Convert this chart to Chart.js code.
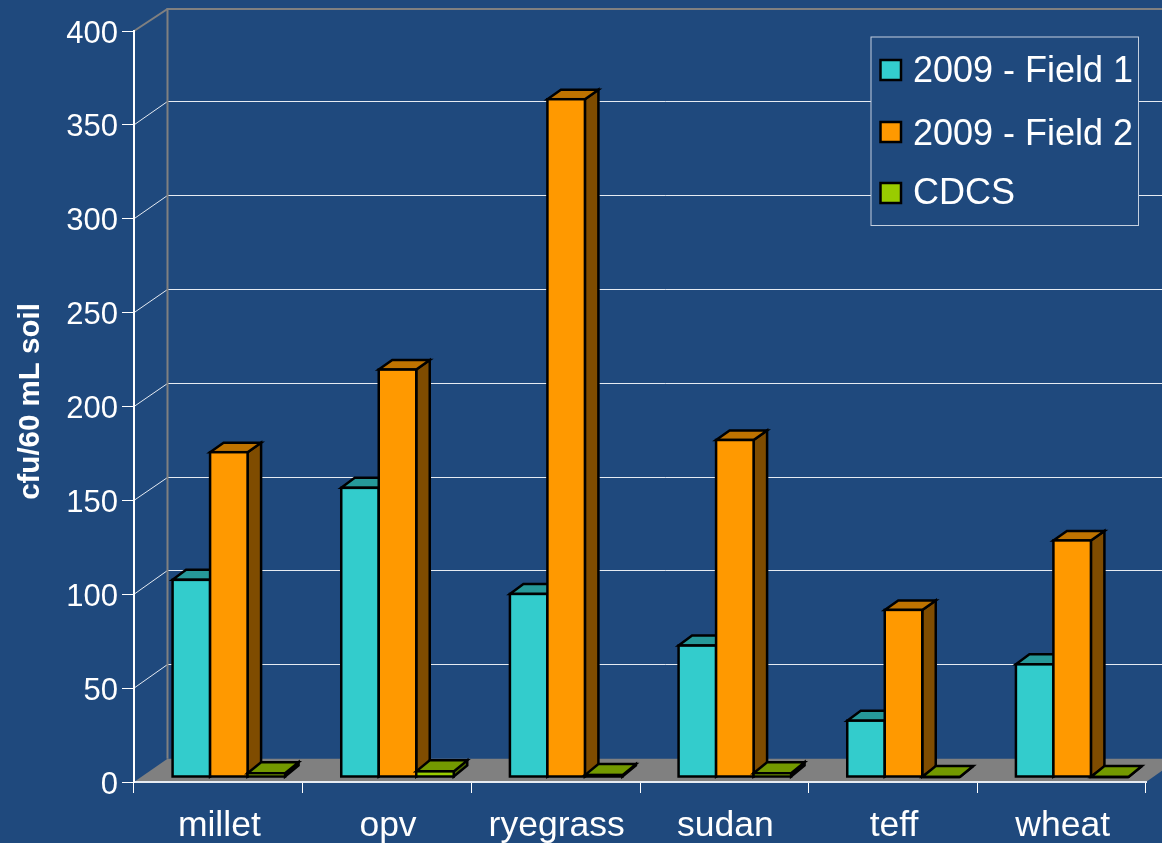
<!DOCTYPE html>
<html>
<head>
<meta charset="utf-8">
<title>cfu/60 mL soil</title>
<script src="https://cdn.jsdelivr.net/npm/chart.js@4"></script>
<style>
  html, body { margin: 0; padding: 0; background: #1F497D; overflow: hidden; }
  canvas { display: block; }
</style>
</head>
<body>
<canvas id="soilChart" width="1162" height="843"></canvas>
<script>
const categories = ['millet', 'opv', 'ryegrass', 'sudan', 'teff', 'wheat'];
const field1 = [105, 154, 97.5, 70, 30, 60];
const field2 = [173, 217, 361, 179.5, 89, 126];
const cdcs = [2, 3, 1, 2, 0, 0];
const seriesNames = ['2009 - Field 1', '2009 - Field 2', 'CDCS'];

const FONT = '"Liberation Sans", Arial, sans-serif';
const GRID = '#e6ebf2';
const WALL = '#808080';
// depth of the floor and how far the bars sit in from its front edge
const FLOOR_DX = 33.5, FLOOR_DY = -23.3;
const BAR_DX = 13.5;
const INSET_DX = 10.5, INSET_DY = -5;
const OUTLINE = 2.5;

// shades for the front, top and side faces, plus the rise of the top face
const faces = [
    { front: '#33CCCC', top: '#269999', side: '#1A6666', rise: -10 },
    { front: '#FF9900', top: '#BF7300', side: '#7F4C00', rise: -9.5 },
    { front: '#99CC00', top: '#739900', side: '#4C6600', rise: -11 }
];

function poly(ctx, pts, fill, stroke) {
    ctx.beginPath();
    pts.forEach((p, i) => i ? ctx.lineTo(p[0], p[1]) : ctx.moveTo(p[0], p[1]));
    ctx.closePath();
    if (fill) { ctx.fillStyle = fill; ctx.fill(); }
    if (stroke) { ctx.strokeStyle = stroke; ctx.lineWidth = OUTLINE; ctx.lineJoin = 'miter'; ctx.stroke(); }
}

// floor, back wall and the grid lines that run around it
const backdrop = {
    id: 'backdrop',
    beforeDraw(chart) {
        const { ctx, chartArea: a, scales: { y } } = chart;
        ctx.save();
        poly(ctx, [[a.left, a.bottom], [a.left + FLOOR_DX, a.bottom + FLOOR_DY],
            [a.right + FLOOR_DX, a.bottom + FLOOR_DY], [a.right, a.bottom]], WALL);

        y.ticks.forEach(t => {
            if (t.value === 0) return;
            const py = y.getPixelForValue(t.value);
            const top = t.value === y.max;
            const back = top ? 9 : Math.floor(py + FLOOR_DY) + 0.5;
            ctx.beginPath();
            ctx.moveTo(a.left, py);
            ctx.lineTo(a.left + FLOOR_DX, back);
            ctx.lineTo(a.right + FLOOR_DX, back);
            ctx.strokeStyle = top ? WALL : GRID;
            ctx.lineWidth = top ? 2 : 1;
            ctx.stroke();
        });

        ctx.beginPath();
        ctx.moveTo(a.left + FLOOR_DX, 8);
        ctx.lineTo(a.left + FLOOR_DX, a.bottom + FLOOR_DY);
        ctx.strokeStyle = WALL;
        ctx.lineWidth = 2;
        ctx.stroke();
        ctx.restore();
    }
};

// the library paints datasets last to first, but these bars overlap left to right,
// so each one is painted here in series order with its top, side and outline
const bars3d = {
    id: 'bars3d',
    beforeDatasetsDraw(chart) {
        const { ctx } = chart;
        chart.data.datasets.forEach((ds, index) => {
            const meta = chart.getDatasetMeta(index);
            const shade = faces[index];
            ctx.save();
            ctx.translate(INSET_DX, INSET_DY);
            meta.data.forEach(bar => {
                const l = bar.x - bar.width / 2, r = bar.x + bar.width / 2;
                poly(ctx, [[r, bar.base], [r + BAR_DX, bar.base + shade.rise], [r + BAR_DX, bar.y + shade.rise], [r, bar.y]], shade.side, '#000');
                poly(ctx, [[l, bar.y], [l + BAR_DX, bar.y + shade.rise], [r + BAR_DX, bar.y + shade.rise], [r, bar.y]], shade.top, '#000');
            });
            meta.controller.draw();
            meta.data.forEach(bar => {
                ctx.strokeStyle = '#000';
                ctx.lineWidth = OUTLINE;
                ctx.strokeRect(bar.x - bar.width / 2, bar.y, bar.width, bar.base - bar.y);
            });
            ctx.restore();
        });
        return false;
    }
};

const sideTexts = {
    id: 'sideTexts',
    afterDraw(chart) {
        const { ctx } = chart;
        ctx.save();

        // legend box
        ctx.fillStyle = '#1F497D';
        ctx.fillRect(871, 37, 267.5, 188.5);
        ctx.strokeStyle = '#c5d0df';
        ctx.lineWidth = 1;
        ctx.strokeRect(871, 37, 267.5, 188.5);
        const rows = [{ box: 60, text: 82 }, { box: 122, text: 145 }, { box: 183, text: 204 }];
        chart.data.datasets.forEach((ds, i) => {
            ctx.fillStyle = ds.backgroundColor;
            ctx.fillRect(880.5, rows[i].box, 20.5, 20);
            ctx.strokeStyle = '#000';
            ctx.lineWidth = OUTLINE;
            ctx.strokeRect(880.5, rows[i].box, 20.5, 20);
            ctx.fillStyle = '#fff';
            ctx.font = '36px ' + FONT;
            ctx.textAlign = 'left';
            ctx.textBaseline = 'alphabetic';
            ctx.fillText(ds.label, 913, rows[i].text);
        });

        // value axis title
        ctx.translate(38.5, 401.5);
        ctx.rotate(-Math.PI / 2);
        ctx.textAlign = 'center';
        ctx.fillStyle = '#fff';
        ctx.font = 'bold 29.5px ' + FONT;
        ctx.fillText('cfu/60 mL soil', 0, 0);
        ctx.restore();
    }
};

const seriesValues = [field1, field2, cdcs];

new Chart(document.getElementById('soilChart').getContext('2d'), {
    type: 'bar',
    data: {
        labels: categories,
        datasets: seriesValues.map((values, i) => ({
            label: seriesNames[i],
            data: values,
            backgroundColor: faces[i].front,
            borderWidth: 0,
            clip: false,
            categoryPercentage: 0.667,
            barPercentage: 1
        }))
    },
    options: {
        responsive: false,
        animation: false,
        events: [],
        layout: { padding: { top: 31, right: 16, left: 0, bottom: 0 } },
        plugins: { legend: { display: false }, tooltip: { enabled: false } },
        scales: {
            x: {
                afterFit: scale => { scale.height = 61; },
                grid: { drawOnChartArea: false, color: '#fff', lineWidth: 1, tickLength: 11 },
                border: { color: '#e6ebf2', width: 2 },
                ticks: {
                    color: '#fff',
                    font: { family: FONT, size: 35.5 },
                    padding: 12,
                    labelOffset: 1,
                    maxRotation: 0,
                    autoSkip: false
                }
            },
            y: {
                min: 0,
                max: 400,
                afterFit: scale => { scale.width = 134; },
                grid: { drawOnChartArea: false, color: '#fff', lineWidth: 1, tickLength: 12 },
                border: { color: '#fff', width: 2 },
                ticks: {
                    stepSize: 50,
                    color: '#fff',
                    font: { family: FONT, size: 31 },
                    padding: 4,
                    labelOffset: 3
                }
            }
        }
    },
    plugins: [backdrop, bars3d, sideTexts]
});
</script>
</body>
</html>
